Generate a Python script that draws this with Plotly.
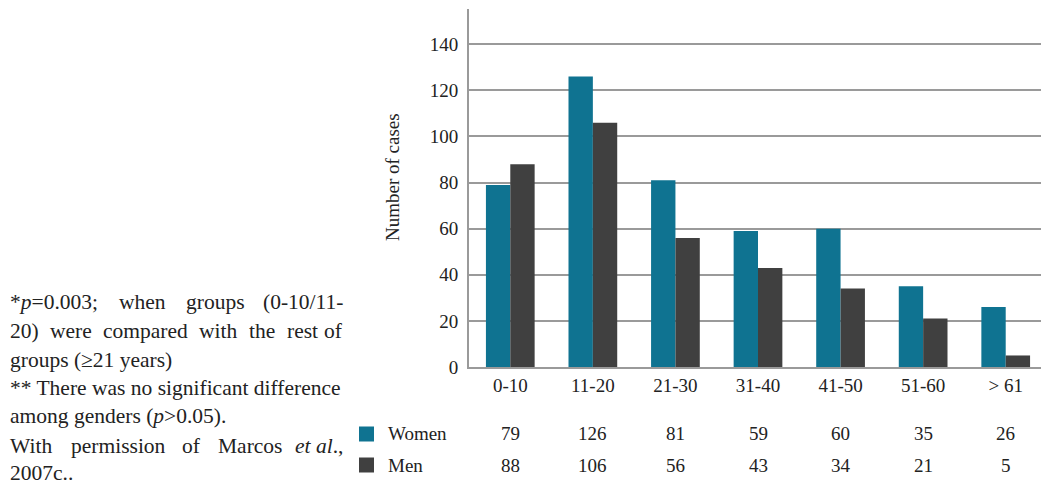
import plotly.graph_objects as go

categories = ["0-10", "11-20", "21-30", "31-40", "41-50", "51-60", "> 61"]
women = [79, 126, 81, 59, 60, 35, 26]
men = [88, 106, 56, 43, 34, 21, 5]
series_names = ["Women", "Men"]
y_ticks = [0, 20, 40, 60, 80, 100, 120, 140]
y_title = "Number of cases"

WOMEN_C = "#0f7391"
MEN_C = "#404040"
FONT = "'Liberation Serif', 'Times New Roman', 'DejaVu Serif', serif"
FS = 19
NOTE_FS = 21.5

OFF = 8  # page body margin
W, H = 1049 - OFF, 487 - OFF
L, R, T, B = 469 - OFF, 2, 9 - OFF, 120
PH = H - T - B
PW = W - L - R


def py(pix):
    return (H - B - (pix - OFF)) / PH


def px(pix):
    return ((pix - OFF) - L) / PW


fig = go.Figure()
fig.add_trace(go.Bar(x=categories, y=women, name=series_names[0], marker_color=WOMEN_C, marker_line_width=0))
fig.add_trace(go.Bar(x=categories, y=men, name=series_names[1], marker_color=MEN_C, marker_line_width=0))

TXT = dict(family=FONT, size=FS, color="#222")
NTXT = dict(family=FONT, size=NOTE_FS, color="#222")
ann = []
for vals, name, pix in [(women, series_names[0], 434), (men, series_names[1], 465)]:
    for c, v in zip(categories, vals):
        ann.append(dict(x=c, y=py(pix), xref="x", yref="paper", text=str(v), showarrow=False,
                        font=TXT, xanchor="center", yanchor="middle"))
    ann.append(dict(x=px(386), y=py(pix), xref="paper", yref="paper", text=name, showarrow=False,
                    font=TXT, xanchor="left", yanchor="middle"))

shapes = []
for color, pix in [(WOMEN_C, 434), (MEN_C, 465)]:
    shapes.append(dict(type="rect", xref="paper", yref="paper", x0=px(359), x1=px(374),
                       y0=py(pix + 7.5), y1=py(pix - 7.5), fillcolor=color, line_width=0))

ann.append(dict(x=px(393), y=py(177), xref="paper", yref="paper", text=y_title, textangle=-90,
                showarrow=False, font=TXT, xanchor="center", yanchor="middle"))

# --- note text (justified lines emulated by spreading words) ---
TIMES = {" ": 250, "*": 500, "=": 564, ".": 250, ";": 278, "(": 333, ")": 333, "/": 278, "-": 333,
         ",": 250, "≥": 549, ">": 564, "a": 444, "b": 500, "c": 444, "d": 500, "e": 444, "f": 333,
         "g": 500, "h": 500, "i": 278, "l": 278, "m": 778, "n": 500, "o": 500, "p": 500, "r": 333,
         "s": 389, "t": 278, "u": 500, "w": 722, "y": 500, "W": 944, "M": 889, "T": 611}


def width(word):
    plain = word.replace("<i>", "").replace("</i>", "")
    return sum(TIMES.get(ch, 500) for ch in plain) / 1000 * NOTE_FS


X0, X1 = 8, 345
note_lines = [
    (302, ["*<i>p</i>=0.003;", "when", "groups", "(0-10/11-"], True),
    (331, ["20)", "were", "compared", "with", "the", "rest", "of"], True),
    (360, ["groups (≥21 years)"], False),
    (388, ["** There was no significant difference"], False),
    (416, ["among genders (<i>p</i>>0.05)."], False),
    (446, ["With", "permission", "of", "Marcos", "<i>et al</i>.,"], True),
    (473, ["2007c.."], False),
]
for pix, words, justify in note_lines:
    if not justify:
        ann.append(dict(x=px(X0), y=py(pix), xref="paper", yref="paper", text=words[0], showarrow=False,
                        font=NTXT, xanchor="left", yanchor="middle"))
        continue
    ws = [width(w) for w in words]
    gap = (X1 - X0 - sum(ws)) / (len(words) - 1)
    xpos = X0
    for i, w in enumerate(words):
        last = i == len(words) - 1
        ann.append(dict(x=px(X1 if last else xpos), y=py(pix), xref="paper", yref="paper", text=w,
                        showarrow=False, font=NTXT, xanchor="right" if last else "left", yanchor="middle"))
        xpos += ws[i] + gap

fig.update_layout(
    width=W, height=H,
    margin=dict(l=L, r=R, t=T, b=B, pad=0),
    paper_bgcolor="white", plot_bgcolor="white",
    barmode="group", bargap=0.41, bargroupgap=0,
    showlegend=False,
    font=TXT,
    annotations=ann, shapes=shapes,
    xaxis=dict(showgrid=False, showline=True, linecolor="#9a9a9a", linewidth=2, ticks="",
               tickfont=TXT, fixedrange=True),
    yaxis=dict(range=[0, 155.3], tickvals=y_ticks, showgrid=True, gridcolor="#9a9a9a", gridwidth=2,
               showline=True, linecolor="#9a9a9a", linewidth=2, ticks="", zeroline=False,
               tickfont=TXT, ticklabelstandoff=5),
)

fig.write_html("out.html")
